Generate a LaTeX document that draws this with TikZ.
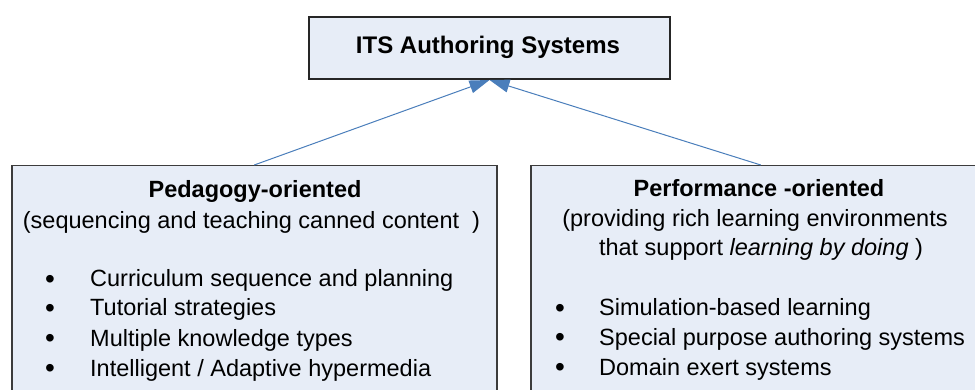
\documentclass[tikz,border=0pt]{standalone}
\usepackage{fontspec}
\setmainfont{Liberation Sans}
\usetikzlibrary{arrows.meta}
\definecolor{boxfill}{HTML}{E7EDF7}
\definecolor{boxline}{HTML}{3C3C3C}
\definecolor{arrowblue}{HTML}{4A7EBB}
\begin{document}
\begin{tikzpicture}[x=1pt,y=-1pt,
  font=\fontsize{23.5}{28}\selectfont,
  box/.style={draw=boxline, fill=boxfill, line width=1.5pt, rectangle, inner sep=0pt, anchor=north west},
  txt/.style={inner sep=0pt, anchor=base},
  item/.style={inner sep=0pt, anchor=base west},
  dotmark/.style={inner sep=0pt, anchor=base, font=\fontsize{28}{28}\selectfont, yshift=-1.5pt},
  link/.style={draw=arrowblue, line width=1pt, -{Triangle[length=20pt,width=13pt]}}]
\useasboundingbox (0,0) rectangle (975,390);
% boxes
\node[box, line width=2pt, draw=black!85, minimum width=361pt, minimum height=62pt] (top) at (308,16) {};
\node[box, minimum width=485pt, minimum height=260pt] (lb) at (11,165) {};
\node[box, minimum width=460pt, minimum height=260pt] (rb) at (530,165) {};
% connectors
\draw[link] (lb.north) -- (top.south);
\draw[link] (rb.north) -- (top.south);
% top text
\node[inner sep=0pt, font=\fontsize{24}{28}\selectfont\bfseries] (toptxt) at (488,47) {ITS Authoring Systems};
% left box text
\node[txt, font=\fontsize{23.5}{28}\selectfont\bfseries] (lt1) at (255,198) {Pedagogy-oriented};
\node[txt] (lt2) at (251.5,229) {(sequencing and teaching canned content~~)};
\node[dotmark] (lb1) at (50,287) {•};
\node[item] (li1) at (90,287) {Curriculum sequence and planning};
\node[dotmark] (lb2) at (50,316) {•};
\node[item] (li2) at (90,316) {Tutorial strategies};
\node[dotmark] (lb3) at (50,346) {•};
\node[item] (li3) at (90,346) {Multiple knowledge types};
\node[dotmark] (lb4) at (50,376) {•};
\node[item] (li4) at (90,376) {Intelligent / Adaptive hypermedia};
% right box text
\node[txt, font=\fontsize{23.5}{28}\selectfont\bfseries] (rt1) at (759,197) {Performance -oriented};
\node[txt] (rt2) at (755,227) {(providing rich learning environments};
\node[txt] (rt3) at (761,256) {that support \textit{learning by doing}~)};
\node[dotmark] (rb1) at (560,316) {•};
\node[item] (ri1) at (599,316) {Simulation-based learning};
\node[dotmark] (rb2) at (560,345) {•};
\node[item] (ri2) at (599,345) {Special purpose authoring systems};
\node[dotmark] (rb3) at (560,375) {•};
\node[item] (ri3) at (599,375) {Domain exert systems};
\end{tikzpicture}
\end{document}
